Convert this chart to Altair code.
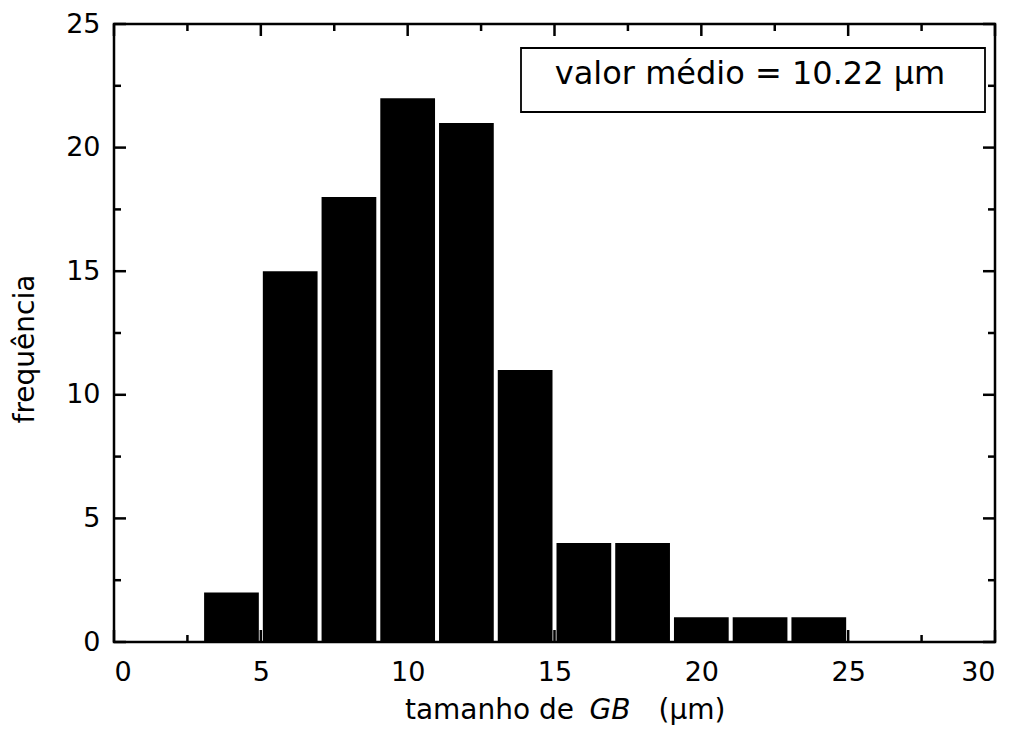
import altair as alt
import pandas as pd

# ---- data ----
bin_start = [3, 5, 7, 9, 11, 13, 15, 17, 19, 21, 23]
bin_end = [5, 7, 9, 11, 13, 15, 17, 19, 21, 23, 25]
freq = [2, 15, 18, 22, 21, 11, 4, 4, 1, 1, 1]

x_major = [0, 5, 10, 15, 20, 25, 30]
x_minor = [2.5, 7.5, 12.5, 17.5, 22.5, 27.5]
y_major = [0, 5, 10, 15, 20, 25]
y_minor = [2.5, 7.5, 12.5, 17.5, 22.5]

box_text = "valor médio = 10.22  µm"
x_title_parts = ["tamanho de", "GB", "(µm)"]
y_title = "frequência"

FONT = "DejaVu Sans"
W, H = 881, 618

xs = alt.Scale(domain=[0, 30], nice=False, zero=False)
ys = alt.Scale(domain=[0, 25], nice=False, zero=False)

xaxis = alt.Axis(values=x_major, format="d", title=None, ticks=False, tickSize=0,
                 domain=False, grid=False, labelFontSize=27, labelFont=FONT,
                 labelColor="black", labelPadding=17)
yaxis = alt.Axis(values=y_major, format="d", title=None, ticks=False, tickSize=0,
                 domain=False, grid=False, labelFontSize=27, labelFont=FONT,
                 labelColor="black", labelPadding=14)

df = pd.DataFrame({"s": bin_start, "e": bin_end, "f": freq})

bars = alt.Chart(df).mark_rect(color="black", xOffset=2, x2Offset=-2).encode(
    x=alt.X("s:Q", scale=xs, axis=xaxis),
    x2="e:Q",
    y=alt.Y("f:Q", scale=ys, axis=yaxis),
    y2=alt.datum(0),
)


def xticks(vals, y1, y2):
    return alt.Chart(pd.DataFrame({"v": vals})).mark_rule(color="black", strokeWidth=2.5).encode(
        x=alt.X("v:Q", scale=xs, axis=xaxis), y=alt.value(y1), y2=alt.value(y2))


def yticks(vals, x1, x2):
    return alt.Chart(pd.DataFrame({"v": vals})).mark_rule(color="black", strokeWidth=2.5).encode(
        y=alt.Y("v:Q", scale=ys, axis=yaxis), x=alt.value(x1), x2=alt.value(x2))


MAJ, MIN = 12, 7
ticks = [
    xticks(x_major, H, H - MAJ), xticks(x_minor, H, H - MIN),
    xticks(x_major, 0, MAJ), xticks(x_minor, 0, MIN),
    yticks(y_major, 0, MAJ), yticks(y_minor, 0, MIN),
    yticks(y_major, W, W - MAJ), yticks(y_minor, W, W - MIN),
]

one = pd.DataFrame({"a": [0]})

box = alt.Chart(one).mark_rect(fill="white", stroke="black", strokeWidth=1.8).encode(
    x=alt.value(407), x2=alt.value(871), y=alt.value(24), y2=alt.value(88))

box_label = alt.Chart(one).mark_text(text=box_text, font=FONT, fontSize=32, color="black",
                                     align="center", baseline="alphabetic").encode(
    x=alt.value(636), y=alt.value(60))

TY = 695
t1 = alt.Chart(one).mark_text(text=x_title_parts[0], font=FONT, fontSize=28, color="black",
                              align="right", baseline="alphabetic").encode(
    x=alt.value(460), y=alt.value(TY))
t2 = alt.Chart(one).mark_text(text=x_title_parts[1], font=FONT, fontSize=28, color="black",
                              fontStyle="italic", align="center", baseline="alphabetic").encode(
    x=alt.value(496), y=alt.value(TY))
t3 = alt.Chart(one).mark_text(text=x_title_parts[2], font=FONT, fontSize=28, color="black",
                              align="center", baseline="alphabetic").encode(
    x=alt.value(578), y=alt.value(TY))

y_title_mark = alt.Chart(one).mark_text(text=y_title, font=FONT, fontSize=28, color="black",
                                        angle=270, align="center", baseline="alphabetic").encode(
    x=alt.value(-80), y=alt.value(325))

chart = alt.layer(bars, *ticks, box, box_label, t1, t2, t3, y_title_mark).properties(
    width=W, height=H,
    autosize=alt.AutoSizeParams(type="none"),
    padding={"left": 106, "top": 16, "right": 12, "bottom": 86},
    background="white",
).configure_view(stroke="black", strokeWidth=2.5)

chart.save("out.html", embed_options={"renderer": "svg", "actions": False})
